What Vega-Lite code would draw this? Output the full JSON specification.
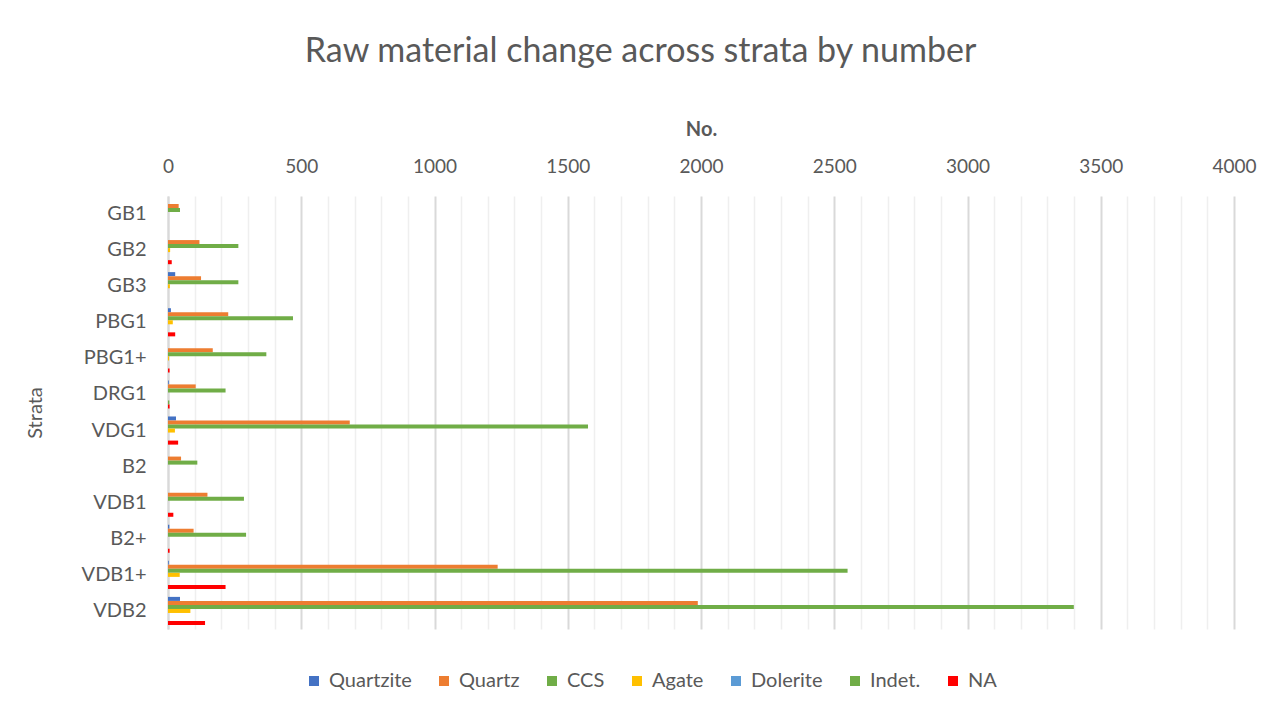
{
  "$schema": "https://vega.github.io/schema/vega-lite/v6.json",
  "width": 1066,
  "height": 433,
  "padding": {"left": 25, "top": 35, "right": 20, "bottom": 10},
  "background": "white",
  "title": {
    "text": "Raw material change across strata by number",
    "font": "Lato",
    "fontSize": 34,
    "fontWeight": "normal",
    "color": "#595959",
    "anchor": "middle",
    "frame": "bounds",
    "offset": 50
  },
  "config": {
    "view": {"stroke": null},
    "font": "Lato"
  },
  "data": {
    "values": [
      {"strata": "GB1", "material": "Quartz", "n": 40},
      {"strata": "GB1", "material": "CCS", "n": 45},
      {"strata": "GB2", "material": "Quartz", "n": 118},
      {"strata": "GB2", "material": "CCS", "n": 264},
      {"strata": "GB2", "material": "Agate", "n": 8},
      {"strata": "GB2", "material": "NA", "n": 14},
      {"strata": "GB3", "material": "Quartzite", "n": 27},
      {"strata": "GB3", "material": "Quartz", "n": 124},
      {"strata": "GB3", "material": "CCS", "n": 264},
      {"strata": "GB3", "material": "Agate", "n": 7},
      {"strata": "PBG1", "material": "Quartzite", "n": 11},
      {"strata": "PBG1", "material": "Quartz", "n": 226},
      {"strata": "PBG1", "material": "CCS", "n": 469},
      {"strata": "PBG1", "material": "Agate", "n": 18},
      {"strata": "PBG1", "material": "NA", "n": 27},
      {"strata": "PBG1+", "material": "Quartz", "n": 168},
      {"strata": "PBG1+", "material": "CCS", "n": 369},
      {"strata": "PBG1+", "material": "Agate", "n": 4},
      {"strata": "PBG1+", "material": "NA", "n": 6},
      {"strata": "DRG1", "material": "Quartzite", "n": 3},
      {"strata": "DRG1", "material": "Quartz", "n": 104},
      {"strata": "DRG1", "material": "CCS", "n": 216},
      {"strata": "DRG1", "material": "Indet.", "n": 5},
      {"strata": "DRG1", "material": "NA", "n": 6},
      {"strata": "VDG1", "material": "Quartzite", "n": 30},
      {"strata": "VDG1", "material": "Quartz", "n": 682},
      {"strata": "VDG1", "material": "CCS", "n": 1576},
      {"strata": "VDG1", "material": "Agate", "n": 26},
      {"strata": "VDG1", "material": "NA", "n": 38},
      {"strata": "B2", "material": "Quartz", "n": 49},
      {"strata": "B2", "material": "CCS", "n": 110},
      {"strata": "VDB1", "material": "Quartz", "n": 148},
      {"strata": "VDB1", "material": "CCS", "n": 285},
      {"strata": "VDB1", "material": "NA", "n": 20},
      {"strata": "B2+", "material": "Quartzite", "n": 5},
      {"strata": "B2+", "material": "Quartz", "n": 96},
      {"strata": "B2+", "material": "CCS", "n": 293},
      {"strata": "B2+", "material": "NA", "n": 6},
      {"strata": "VDB1+", "material": "Quartzite", "n": 3},
      {"strata": "VDB1+", "material": "Quartz", "n": 1237},
      {"strata": "VDB1+", "material": "CCS", "n": 2550},
      {"strata": "VDB1+", "material": "Agate", "n": 44},
      {"strata": "VDB1+", "material": "NA", "n": 216},
      {"strata": "VDB2", "material": "Quartzite", "n": 45},
      {"strata": "VDB2", "material": "Quartz", "n": 1988},
      {"strata": "VDB2", "material": "CCS", "n": 3399},
      {"strata": "VDB2", "material": "Agate", "n": 84},
      {"strata": "VDB2", "material": "NA", "n": 139}
    ]
  },
  "mark": {"type": "bar"},
  "encoding": {
    "x": {
      "field": "n",
      "type": "quantitative",
      "scale": {"domain": [0, 4000], "nice": false},
      "axis": {
        "orient": "top",
        "title": "No.",
        "titleFontSize": 20,
        "titleFontWeight": "bold",
        "titleColor": "#595959",
        "titlePadding": 18,
        "values": [0,100,200,300,400,500,600,700,800,900,1000,1100,1200,1300,1400,1500,1600,1700,1800,1900,2000,2100,2200,2300,2400,2500,2600,2700,2800,2900,3000,3100,3200,3300,3400,3500,3600,3700,3800,3900,4000],
        "labelExpr": "datum.value % 500 === 0 ? datum.label : ''",
        "format": "d",
        "labelOverlap": false,
        "labelFlush": false,
        "labelFontSize": 19,
        "labelColor": "#595959",
        "labelPadding": 20,
        "ticks": false,
        "domain": false,
        "grid": true,
        "gridColor": {"condition": {"test": "datum.value % 500 === 0", "value": "#d9d9d9"}, "value": "#efefef"},
        "gridWidth": {"condition": {"test": "datum.value % 500 === 0", "value": 2}, "value": 1.5}
      }
    },
    "y": {
      "field": "strata",
      "type": "nominal",
      "sort": ["GB1","GB2","GB3","PBG1","PBG1+","DRG1","VDG1","B2","VDB1","B2+","VDB1+","VDB2"],
      "scale": {"paddingInner": 0.22, "paddingOuter": 0.11},
      "axis": {
        "title": "Strata",
        "titleFontSize": 20,
        "titleFontWeight": "normal",
        "titleColor": "#595959",
        "titlePadding": 36,
        "labelFontSize": 20,
        "labelColor": "#595959",
        "labelPadding": 22,
        "ticks": false,
        "domain": true,
        "domainColor": "#d9d9d9",
        "domainWidth": 2
      }
    },
    "yOffset": {
      "field": "material",
      "type": "nominal",
      "sort": ["Quartzite","Quartz","CCS","Agate","Dolerite","Indet.","NA"],
      "scale": {"domain": ["Quartzite","Quartz","CCS","Agate","Dolerite","Indet.","NA"], "paddingInner": 0, "paddingOuter": 0}
    },
    "color": {
      "field": "material",
      "type": "nominal",
      "scale": {
        "domain": ["Quartzite","Quartz","CCS","Agate","Dolerite","Indet.","NA"],
        "range": ["#4472C4","#ED7D31","#70AD47","#FFC000","#5B9BD5","#70AD47","#FF0000"]
      },
      "legend": {
        "title": null,
        "orient": "none",
        "direction": "horizontal",
        "legendX": 136,
        "legendY": 475,
        "symbolType": "square",
        "symbolSize": 100,
        "symbolStrokeWidth": 0,
        "labelFontSize": 20,
        "labelColor": "#595959",
        "labelOffset": 5,
        "columnPadding": 22
      }
    }
  }
}
